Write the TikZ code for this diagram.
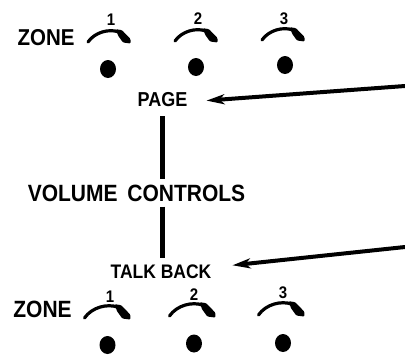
\documentclass[tikz,border=0pt]{standalone}
\usepackage{fontspec}
\usepackage{graphicx}
\setmainfont{Liberation Sans}
\usetikzlibrary{arrows.meta,shapes.geometric}
\newcommand{\tallt}[1]{\scalebox{1}[1.12]{#1}}
\begin{document}
\begin{tikzpicture}[x=1bp,y=-1bp,
  lbl/.style={font=\bfseries\fontsize{#1bp}{#1bp}\selectfont, inner sep=0pt},
  dot/.style={ellipse, fill=black, inner sep=0pt, minimum width=16bp, minimum height=18bp},
  arr/.style={line width=4bp, -{Stealth[length=18bp,width=10bp,inset=5bp]}},
  vline/.style={line width=4.5bp},
  knob/.pic={
    \draw[line width=3.2bp, line cap=round] (-19,12) .. controls (-12,2) and (2,-1.5) .. (12,2);
    \fill[rounded corners=1bp] (9,-0.8) -- (15,0.2) -- (23.5,9) -- (23.5,13.5) -- (16,12.5) -- (11,5.5) -- cycle;
  }]
\useasboundingbox (0,0) rectangle (405,356);
% top row
\node[lbl=20.5] (zt) at (46,38) {\tallt{ZONE}};
\node[lbl=15] (t1) at (111,20) {\tallt{1}};
\node[lbl=15] (t2) at (198,19) {\tallt{2}};
\node[lbl=15] (t3) at (284,19) {\tallt{3}};
\pic at (107,30) {knob};
\pic at (194,29) {knob};
\pic at (281,28) {knob};
\node[dot] (dt1) at (108,69) {};
\node[dot] (dt2) at (196,67) {};
\node[dot] (dt3) at (285,65) {};
% labels
\node[lbl=18] (page) at (162.5,100) {\tallt{PAGE}};
\node[lbl=21] (vc) at (136.5,193) {\tallt{VOLUME\hspace{4bp} CONTROLS}};
\node[lbl=17.5] (tb) at (161,272) {\tallt{TALK BACK}};
% vertical line
\draw[vline, shorten <=9bp, shorten >=5bp] (page.south) -- (page.south |- vc.north);
\draw[vline, shorten <=5bp, shorten >=7bp] (page.south |- vc.south) -- (page.south |- tb.north);
% arrows
\coordinate (ps) at (405,86);
\coordinate (ts) at (405,247);
\draw[arr, shorten >=19bp] (ps) -- ([yshift=-2bp]page.east);
\draw[arr, shorten >=21bp] (ts) -- ([yshift=4.5bp]tb.east);
% bottom row
\node[lbl=21] (zb) at (42.5,309) {\tallt{ZONE}};
\node[lbl=15] (b1) at (110,297) {\tallt{1}};
\node[lbl=15] (b2) at (194,295) {\tallt{2}};
\node[lbl=15] (b3) at (283,293) {\tallt{3}};
\pic[scale=1.08] at (105,305) {knob};
\pic[scale=1.08] at (190,303) {knob};
\pic[scale=1.08] at (279,302) {knob};
\node[dot] (db1) at (107.5,345) {};
\node[dot] (db2) at (194,343.5) {};
\node[dot] (db3) at (283,343) {};
\end{tikzpicture}
\end{document}
